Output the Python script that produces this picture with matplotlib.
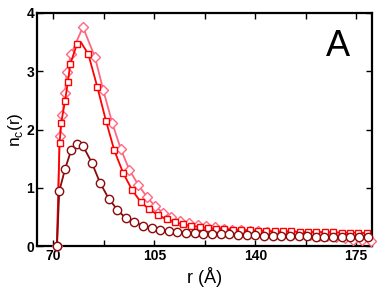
import matplotlib
matplotlib.use("Agg")
import matplotlib.pyplot as plt
from matplotlib.ticker import MultipleLocator

plt.rcParams['font.family'] = ['Liberation Sans', 'DejaVu Sans']

# pink diamonds
r_dia = [71.2, 72.1, 73.1, 74.0, 74.6, 76.1, 80.2, 84.4, 87.3, 90.4, 93.3, 96.3,
         99.4, 102.3, 105.1, 108.0, 110.9, 114.0, 117.0, 120.0, 123.0, 126.0,
         129.0, 132.0, 135.0, 138.0, 141.0, 144.0, 147.0, 150.0, 153.0, 156.0,
         159.0, 162.0, 165.0, 168.0, 171.0, 174.0, 177.0, 180.0]
n_dia = [0.0, 1.88, 2.25, 2.62, 2.99, 3.29, 3.76, 3.24, 2.67, 2.11, 1.67, 1.31,
         1.05, 0.85, 0.69, 0.57, 0.49, 0.43, 0.39, 0.36, 0.34, 0.32,
         0.30, 0.28, 0.27, 0.26, 0.25, 0.24, 0.23, 0.22, 0.21, 0.20,
         0.19, 0.18, 0.17, 0.15, 0.13, 0.11, 0.10, 0.09]

# red squares (index 7 is the line peak, no marker there)
r_sq = [71.2, 72.1, 72.7, 74.0, 75.0, 75.8, 78.1, 79.5, 82.1, 85.2, 88.2, 91.1,
        94.2, 97.3, 100.2, 103.2, 106.3, 109.2, 112.0, 114.9, 117.8, 120.7,
        123.6, 126.4, 129.3, 132.2, 135.1, 138.0, 140.9, 143.8, 146.7, 149.6,
        152.5, 155.4, 158.3, 161.2, 164.1, 167.0, 169.9, 172.8, 175.7, 178.6]
n_sq = [0.0, 1.76, 2.12, 2.49, 2.82, 3.12, 3.46, 3.50, 3.29, 2.73, 2.15, 1.64,
        1.25, 0.96, 0.76, 0.63, 0.53, 0.46, 0.42, 0.37, 0.35, 0.33,
        0.31, 0.30, 0.29, 0.28, 0.27, 0.27, 0.26, 0.26, 0.25, 0.25,
        0.25, 0.24, 0.24, 0.24, 0.24, 0.24, 0.23, 0.23, 0.23, 0.22]

# dark red circles
r_circ = [71.2, 72.0, 74.0, 76.1, 78.3, 80.2, 83.3, 86.1, 89.2, 92.2, 95.0, 98.0,
          101.0, 104.0, 107.0, 110.0, 113.0, 116.0, 119.0, 122.0, 125.0, 128.0,
          131.0, 134.0, 137.0, 140.0, 143.0, 146.0, 149.0, 152.0, 155.0, 158.0,
          161.0, 164.0, 167.0, 170.0, 173.0, 176.0, 179.0]
n_circ = [0.0, 0.94, 1.32, 1.64, 1.75, 1.72, 1.43, 1.09, 0.81, 0.62, 0.48, 0.41,
          0.35, 0.31, 0.28, 0.25, 0.24, 0.23, 0.22, 0.21, 0.21, 0.20,
          0.20, 0.19, 0.19, 0.19, 0.18, 0.18, 0.18, 0.17, 0.17, 0.17,
          0.16, 0.16, 0.16, 0.16, 0.15, 0.15, 0.15]

fig = plt.figure(figsize=(3.82, 2.95), dpi=100)
ax = fig.add_axes([0.097, 0.166, 0.877, 0.790])

ax.plot(r_dia, n_dia, color='#ff6680', lw=1.3, marker='D', ms=4.8, mfc='white',
        mec='#ff6680', mew=1.0, clip_on=False, zorder=3)
sq_marks = [i for i in range(len(r_sq)) if i != 7]
ax.plot(r_sq, n_sq, color='#ff0000', lw=1.3, marker='s', ms=5, mfc='white',
        mec='#ff0000', mew=1.0, markevery=sq_marks, clip_on=False, zorder=4)
ax.plot(r_circ, n_circ, color='#8b0a0a', lw=1.3, marker='o', ms=6, mfc='white',
        mec='#8b0a0a', mew=1.0, clip_on=False, zorder=5)

ax.set_xlim(64.3, 180.5)
ax.set_ylim(0, 4)
ax.set_xticks([70, 105, 140, 175])
ax.xaxis.set_minor_locator(MultipleLocator(17.5))
ax.yaxis.set_major_locator(MultipleLocator(1))

ax.tick_params(which='both', direction='in', top=True, right=True,
               length=4, width=1.0, labelsize=10, pad=2)
for lab in ax.get_xticklabels() + ax.get_yticklabels():
    lab.set_fontweight('bold')
for s in ax.spines.values():
    s.set_linewidth(1.6)

ax.set_xlabel('r (Å)', fontsize=13, labelpad=3)
ax.set_ylabel(r'n$_\mathregular{c}$(r)', fontsize=12.5)
ax.yaxis.set_label_coords(-0.036, 0.5)
ax.text(0.935, 0.93, 'A', transform=ax.transAxes, fontsize=26,
        ha='right', va='top')

fig.savefig('out.png', dpi=100)
